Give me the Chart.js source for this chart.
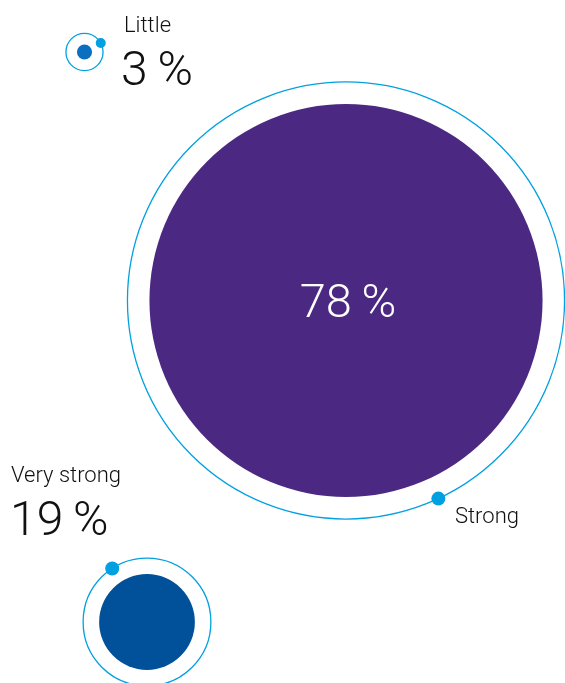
<!DOCTYPE html>
<html>
<head>
<meta charset="utf-8">
<script src="https://cdn.jsdelivr.net/npm/chart.js@4"></script>
<style>
  html, body { margin: 0; padding: 0; background: #fff; }
  #wrap { width: 565px; height: 683px; }
</style>
</head>
<body>
<div id="wrap"><canvas id="js-share-bubbles" width="565" height="683"></canvas></div>
<script>
  // shares per answer
  var labels = ['Little', 'Strong', 'Very strong'];
  var values = [3, 78, 19];

  // layout of each bubble (page coordinates, y down)
  var centerX = [84.5, 346, 147];
  var centerY = [52, 300.5, 622];
  var ringGap = [11, 22, 16];
  var dotAngle = [-29, 65, -123];
  var dotSize = [5, 7, 7];
  var fillColors = ['#0a6fbe', '#4b2982', '#00519a'];
  var ringColor = '#00a0e1';
  var pxPerPoint = 2.52;

  var FONT = 'Roboto, "Liberation Sans", sans-serif';

  function pct(v) { return v + '\u2009%'; }

  var bubbles = values.map(function (v, i) {
    return { x: centerX[i], y: centerY[i], r: v * pxPerPoint };
  });
  var rings = values.map(function (v, i) {
    return { x: centerX[i], y: centerY[i], r: v * pxPerPoint + ringGap[i] };
  });

  // little dots sitting on each ring + the text labels
  var decorations = {
    id: 'decorations',
    afterDatasetsDraw: function (chart) {
      var ctx = chart.ctx;
      var ringMeta = chart.getDatasetMeta(1);
      ringMeta.data.forEach(function (pt, i) {
        var r = pt.options.radius;
        var a = dotAngle[i] * Math.PI / 180;
        ctx.save();
        ctx.beginPath();
        ctx.fillStyle = ringColor;
        ctx.arc(pt.x + r * Math.cos(a), pt.y + r * Math.sin(a), dotSize[i], 0, Math.PI * 2);
        ctx.fill();
        ctx.restore();
      });

      var fill = chart.getDatasetMeta(0).data;
      ctx.save();
      ctx.textBaseline = 'alphabetic';
      ctx.fillStyle = '#111111';

      // Little
      ctx.textAlign = 'left';
      ctx.font = '300 22px ' + FONT;
      ctx.fillText(labels[0], 124, 32);
      ctx.font = '300 48px ' + FONT;
      ctx.fillText(pct(values[0]), 121, 85);

      // Very strong
      ctx.font = '300 22px ' + FONT;
      ctx.fillText(labels[2], 11, 482);
      ctx.font = '300 48px ' + FONT;
      ctx.fillText(pct(values[2]), 10, 535);

      // Strong
      ctx.font = '300 22px ' + FONT;
      ctx.fillText(labels[1], 455, 523);
      ctx.fillStyle = '#ffffff';
      ctx.textAlign = 'center';
      ctx.font = '300 47px ' + FONT;
      ctx.fillText(pct(values[1]), fill[1].x + 2, 317);
      ctx.restore();
    }
  };

  var ctx = document.getElementById('js-share-bubbles').getContext('2d');
  var shareChart = new Chart(ctx, {
    type: 'bubble',
    data: {
      labels: labels,
      datasets: [{
        data: bubbles,
        backgroundColor: fillColors,
        borderWidth: 0,
        clip: false,
        order: 2
      }, {
        data: rings,
        backgroundColor: 'rgba(0,0,0,0)',
        borderColor: ringColor,
        borderWidth: 1.3,
        clip: false,
        order: 1
      }]
    },
    options: {
      responsive: false,
      animation: false,
      events: [],
      layout: { padding: 0, autoPadding: false },
      plugins: {
        legend: { display: false },
        tooltip: { enabled: false }
      },
      scales: {
        x: { type: 'linear', display: false, min: 0, max: 565 },
        y: { type: 'linear', display: false, min: 0, max: 683, reverse: true }
      }
    },
    plugins: [decorations]
  });
</script>
</body>
</html>
